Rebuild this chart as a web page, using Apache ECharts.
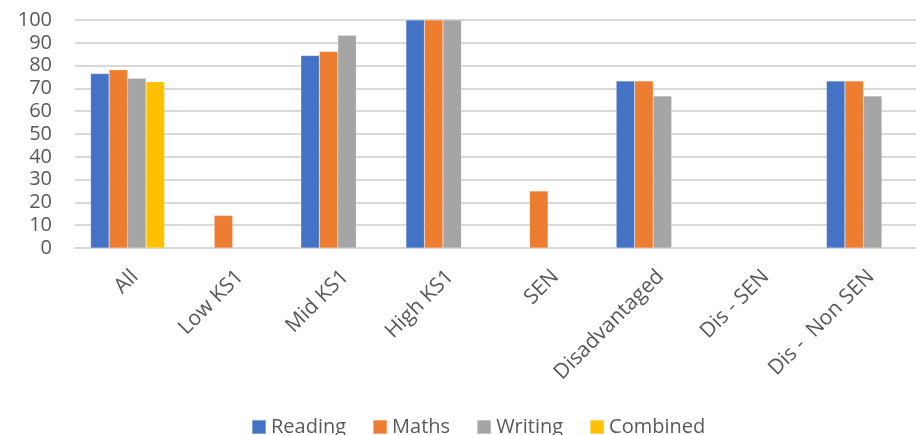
<!DOCTYPE html>
<html>
<head>
<meta charset="utf-8">
<script src="https://cdn.jsdelivr.net/npm/echarts@6/dist/echarts.min.js"></script>
<style>
  html, body { margin: 0; padding: 0; background: #fff; }
  #chart { width: 916px; height: 435px; }
</style>
</head>
<body>
<div id="chart"></div>
<script>
// categories and values
const categories = ["All", "Low KS1", "Mid KS1", "High KS1", "SEN", "Disadvantaged", "Dis - SEN", "Dis -  Non SEN"];
const reading  = [76.5, null, 84.4, 100, null, 73.3, null, 73.3];
const maths    = [78.2, 14.3, 86.2, 100, 25, 73.3, null, 73.3];
const writing  = [74.5, null, 93.3, 100, null, 66.7, null, 66.7];
const combined = [72.9, null, null, null, null, null, null, null];
const yTicks = [0, 10, 20, 30, 40, 50, 60, 70, 80, 90, 100];

const font = "'Open Sans', sans-serif";
const textColor = "#595959";

const chart = echarts.init(document.getElementById("chart"));

function bar(name, data, color) {
  return {
    name: name,
    type: "bar",
    data: data,
    barWidth: 18.5,
    barGap: "0%",
    itemStyle: { color: color, borderColor: "rgba(255,255,255,0.35)", borderWidth: 0.5 },
  };
}

chart.setOption({
  animation: false,
  textStyle: { fontFamily: font },
  grid: {
    left: 75,
    top: 20,
    width: 852,
    height: 228,
  },
  legend: {
    bottom: -7,
    left: 246,
    itemWidth: 14,
    itemHeight: 14,
    itemGap: 26,
    icon: "rect",
    textStyle: { fontSize: 20, color: textColor, fontFamily: font },
    data: ["Reading", "Maths", "Writing", "Combined"],
  },
  xAxis: {
    type: "category",
    data: categories,
    axisLine: { lineStyle: { color: "#d9d9d9", width: 2 } },
    axisTick: { show: false },
    axisLabel: {
      rotate: 45,
      interval: 0,
      margin: 18,
      verticalAlign: "top",
      fontSize: 21,
      color: textColor,
    },
  },
  yAxis: {
    type: "value",
    min: yTicks[0],
    max: yTicks[yTicks.length - 1],
    interval: 10,
    axisLine: { show: false },
    axisTick: { show: false },
    axisLabel: { fontSize: 20, color: textColor, margin: 23 },
    splitLine: { lineStyle: { color: "#d9d9d9", width: 2 } },
  },
  series: [
    bar("Reading", reading, "#4472c4"),
    bar("Maths", maths, "#ed7d31"),
    bar("Writing", writing, "#a5a5a5"),
    bar("Combined", combined, "#ffc000"),
  ],
});
</script>
</body>
</html>
